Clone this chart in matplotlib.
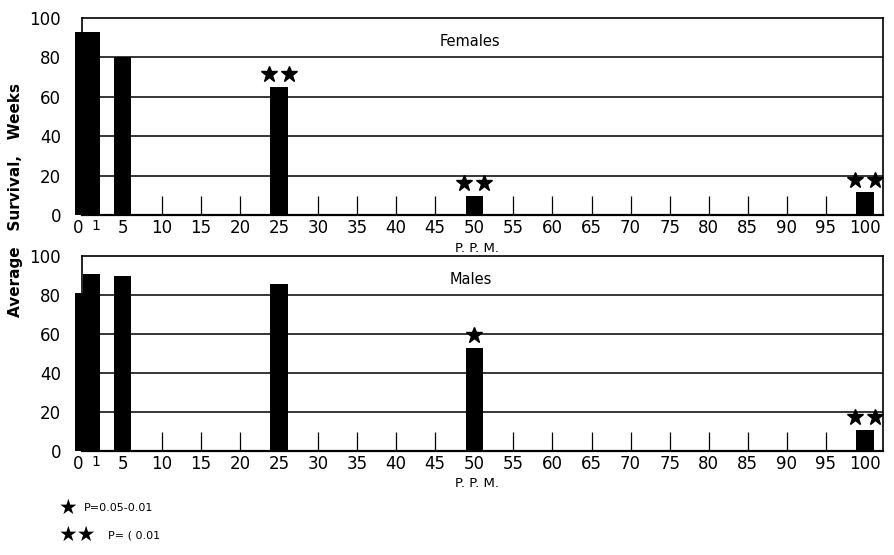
import matplotlib
matplotlib.use('Agg')
import matplotlib.pyplot as plt

# dose levels (ppm) and average survival in weeks
ppm = [0, 1, 5, 25, 50, 100]
females = [93, 93, 80, 65, 9.5, 11.5]
males = [81, 91, 90, 85.5, 53, 11]
# number of significance stars above each bar
female_stars = [0, 0, 0, 2, 2, 2]
male_stars = [0, 0, 0, 0, 1, 2]

tick_pos = [0, 1] + list(range(5, 101, 5))
tick_labels = ['0', '1'] + [str(v) for v in range(5, 101, 5)]
y_ticks = [0, 20, 40, 60, 80, 100]

plt.rcParams['font.family'] = ['DejaVu Sans']

fig = plt.figure(figsize=(8.94, 5.55), dpi=100)
ax1 = fig.add_axes([0.0917, 0.6126, 0.8960, 0.355])
ax2 = fig.add_axes([0.0917, 0.1874, 0.8960, 0.3513])


def panel(ax, vals, stars, title):
    ax.bar(ppm, vals, width=2.2, color='black', zorder=3, clip_on=False)
    for v, s, n in zip(ppm, vals, stars):
        if n == 1:
            ax.plot([v], [s + 6.5], marker='*', ms=12, color='black',
                    ls='none', zorder=4, clip_on=False)
        elif n == 2:
            ax.plot([v - 1.3, v + 1.3], [s + 6.5, s + 6.5], marker='*', ms=12,
                    color='black', ls='none', zorder=4, clip_on=False)
    for g in y_ticks[1:-1]:
        ax.axhline(g, color='black', lw=1.1, zorder=1)
    ax.set_xlim(-0.2, 102.3)
    ax.set_ylim(0, 100)
    ax.set_yticks(y_ticks)
    ax.tick_params(axis='y', length=0, labelsize=12, pad=15)
    ax.set_xticks(tick_pos, tick_labels)
    ax.tick_params(axis='x', direction='in', length=13.5, width=0.9,
                   labelsize=12, pad=3)
    labs = ax.get_xticklabels()
    labs[0].set_ha('right')
    labs[1].set_ha('left')
    labs[1].set_fontsize(10)
    for sp in ax.spines.values():
        sp.set_linewidth(1.2)
    ax.spines['bottom'].set_linewidth(1.6)
    ax.text(49.5, 88, title, ha='center', va='center', fontsize=10.5)
    ax.text(0.493, -0.168, 'P. P. M.', transform=ax.transAxes,
            ha='center', va='center', fontsize=9.5)


panel(ax1, females, female_stars, 'Females')
panel(ax2, males, male_stars, 'Males')

fig.text(0.017, 0.64, 'Average   Survival,   Weeks', rotation=90,
         ha='center', va='center', fontsize=11, fontweight='bold')

# significance key
fig.text(0.066, 0.085, '★', ha='left', va='center', fontsize=15)
fig.text(0.094, 0.085, 'P=0.05-0.01', ha='left', va='center', fontsize=8)
fig.text(0.066, 0.036, '★★', ha='left', va='center', fontsize=15)
fig.text(0.121, 0.036, 'P= ( 0.01', ha='left', va='center', fontsize=8)

fig.savefig('out.png', dpi=100)
